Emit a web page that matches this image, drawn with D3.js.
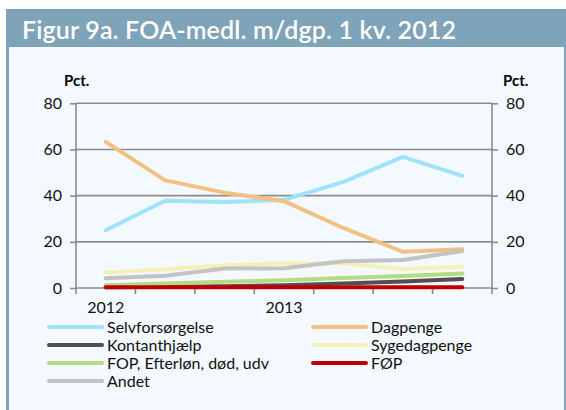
<!DOCTYPE html>
<html>
<head>
<meta charset="utf-8">
<script src="https://cdn.jsdelivr.net/npm/d3@7"></script>
<style>
  body { margin: 0; background: #fff; }
  svg text { font-family: Lato, "Open Sans", sans-serif; }
</style>
</head>
<body>
<div id="chart"></div>
<script>
// Figur 9a - FOA members on benefits, 1st quarter 2012 cohort

// data
var quarters = ["2012K1", "2012K2", "2012K3", "2012K4", "2013K1", "2013K2", "2013K3"];
var quarterLabels = ["2012", "", "", "2013", "", "", ""];
var yTicks = [0, 20, 40, 60, 80];

var selvforsorgelse = [25, 37.8, 37.2, 38.2, 46, 56.8, 48.6];
var dagpenge = [63.3, 46.6, 41.3, 37.6, 26, 15.7, 16.8];
var kontanthjaelp = [0.3, 0.5, 0.8, 1.2, 2.0, 2.8, 3.9];
var sygedagpenge = [6.7, 8.1, 9.8, 10.7, 10.6, 8.2, 9.2];
var fop = [1.2, 2.0, 2.7, 3.4, 4.3, 5.2, 6.3];
var foep = [0.3, 0.3, 0.3, 0.3, 0.3, 0.3, 0.3];
var andet = [4.2, 5.3, 8.4, 8.6, 11.6, 12.1, 16.0];

var seriesNames = ["Selvforsørgelse", "Dagpenge", "Kontanthjælp", "Sygedagpenge",
  "FOP, Efterløn, død, udv", "FØP", "Andet"];
var seriesValues = [selvforsorgelse, dagpenge, kontanthjaelp, sygedagpenge, fop, foep, andet];
var seriesColors = ["#9fe3fa", "#f2c083", "#505050", "#f3f0b8", "#b2dc82", "#c00000", "#c3c3c3"];

var svgWidth = 566, svgHeight = 410;
var plot = {left: 76, right: 492, top: 103.3, bottom: 288};

var svg = d3.select("#chart")
  .append("svg")
  .attr("width", svgWidth)
  .attr("height", svgHeight);

// frame + title bar
svg.append("rect")
  .attr("x", 6).attr("y", 9)
  .attr("width", 560).attr("height", 410)
  .attr("fill", "#7fa3b8");
svg.append("rect")
  .attr("x", 9).attr("y", 47)
  .attr("width", 555).attr("height", 370)
  .attr("fill", "#f3f9fe");
svg.append("text")
  .attr("x", 22).attr("y", 39)
  .attr("fill", "#fff")
  .style("font-size", "25px")
  .style("font-weight", "600")
  .style("letter-spacing", "0.15px")
  .text("Figur 9a. FOA-medl. m/dgp. 1 kv. 2012");

// scales
var x = d3.scaleBand()
  .domain(quarters)
  .range([plot.left, plot.right])
  .padding(0);

var y = d3.scaleLinear()
  .domain([0, 80])
  .range([plot.bottom, plot.top]);

var axisColor = "#8c8c8c";

// gridlines
svg.append("g")
  .selectAll("line")
  .data(yTicks.filter(d => d > 0))
  .enter()
  .append("line")
  .attr("x1", plot.left).attr("x2", plot.right)
  .attr("y1", d => y(d)).attr("y2", d => y(d))
  .attr("stroke", axisColor)
  .attr("stroke-width", 1.6);

// left axis
var leftAxis = svg.append("g")
  .attr("transform", `translate(${plot.left},0)`)
  .call(d3.axisLeft(y).tickValues(yTicks).tickSize(6).tickPadding(8));

// right axis
var rightAxis = svg.append("g")
  .attr("transform", `translate(${plot.right},0)`)
  .call(d3.axisRight(y).tickValues(yTicks).tickSize(6).tickPadding(8));

// bottom axis, ticks at band edges
var bottomAxis = svg.append("g")
  .attr("transform", `translate(0,${plot.bottom})`)
  .call(d3.axisBottom(x).tickSize(0).tickPadding(14).tickFormat((d, i) => quarterLabels[i]));

svg.append("g")
  .selectAll("line")
  .data(quarters.slice(1))
  .enter()
  .append("line")
  .attr("x1", d => x(d)).attr("x2", d => x(d))
  .attr("y1", plot.bottom).attr("y2", plot.bottom + 6)
  .attr("stroke", axisColor)
  .attr("stroke-width", 1.6);

[leftAxis, rightAxis, bottomAxis].forEach(function(a) {
  a.select(".domain").attr("stroke", axisColor).attr("stroke-width", 1.6);
  a.selectAll(".tick line").attr("stroke", axisColor).attr("stroke-width", 1.6);
  a.selectAll("text")
    .attr("fill", "#111")
    .style("font-size", "16px")
    .style("font-family", "Lato, sans-serif");
});
leftAxis.select(".domain").attr("d", `M0,${plot.top}V${plot.bottom + 6}`);
rightAxis.select(".domain").attr("d", `M0,${plot.top}V${plot.bottom + 6}`);
bottomAxis.select(".domain").attr("d", `M${plot.left},0H${plot.right}`);

// unit labels
svg.append("text")
  .attr("x", 64).attr("y", 86)
  .style("font-size", "15px").style("font-weight", "bold")
  .text("Pct.");
svg.append("text")
  .attr("x", 503).attr("y", 86)
  .style("font-size", "15px").style("font-weight", "bold")
  .text("Pct.");

// lines
var line = d3.line()
  .x((d, i) => x(quarters[i]) + x.bandwidth() / 2)
  .y(d => y(d));

svg.append("g")
  .selectAll("path")
  .data(seriesValues)
  .enter()
  .append("path")
  .attr("d", d => line(d))
  .attr("fill", "none")
  .attr("stroke", (d, i) => seriesColors[i])
  .attr("stroke-width", 4)
  .attr("stroke-linecap", "round")
  .attr("stroke-linejoin", "round");

// legend: two columns
var legendCols = [49, 313];
var legendRows = [327, 345, 363, 381];
var legendPos = [[0, 0], [1, 0], [0, 1], [1, 1], [0, 2], [1, 2], [0, 3]];

var legend = svg.append("g")
  .selectAll("g")
  .data(seriesNames)
  .enter()
  .append("g")
  .attr("transform", (d, i) => `translate(${legendCols[legendPos[i][0]]},${legendRows[legendPos[i][1]]})`);

legend.append("line")
  .attr("x1", 0).attr("x2", 53)
  .attr("stroke", (d, i) => seriesColors[i])
  .attr("stroke-width", 4)
  .attr("stroke-linecap", "round");

legend.append("text")
  .attr("x", 58).attr("y", 6)
  .style("font-size", "16px")
  .attr("fill", "#111")
  .text(d => d);
</script>
</body>
</html>
